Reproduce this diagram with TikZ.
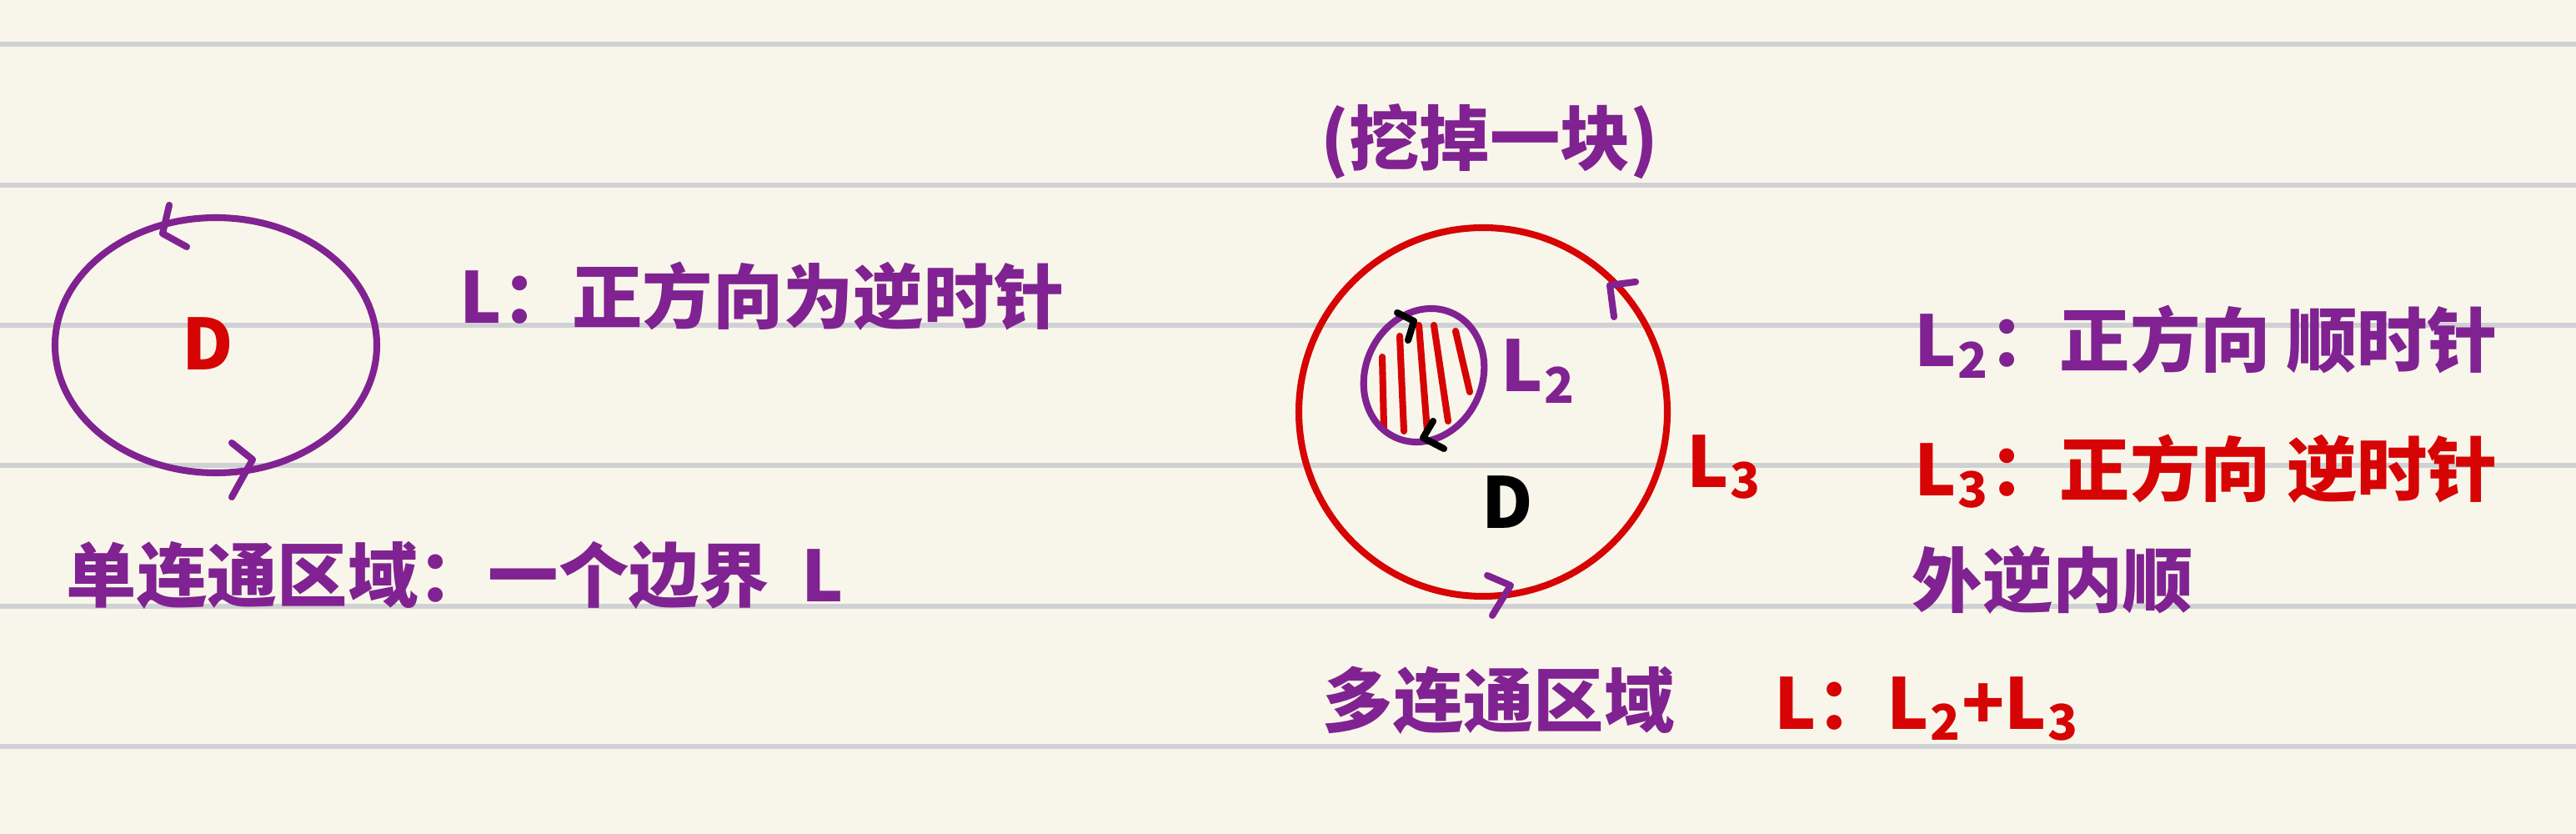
\documentclass[tikz,border=0pt]{standalone}
\usepackage{fontspec}
\setmainfont{Noto Sans CJK SC}
\definecolor{inkPurple}{RGB}{128,34,145}
\definecolor{inkRed}  {RGB}{214,4,4}
\definecolor{paperBg} {RGB}{248,246,234}
\definecolor{ruleGray}{RGB}{208,209,212}
\tikzset{
  ink/.style={line width=2.3pt,line cap=round,line join=round},
  note/.style={font=\fontsize{24}{28}\selectfont\bfseries,anchor=west,inner sep=0pt},
}
\newcommand{\Lsub}[1]{L\kern.02em\textsubscript{#1}}

\begin{document}
\begin{tikzpicture}
        % Papel pautado
        \fill[paperBg] (0,0) rectangle (30.9,10);
        \useasboundingbox (0,0) rectangle (30.9,10);
        \foreach \y in {9.47,7.78,6.10,4.42,2.73,1.05}
          \draw[ruleGray,line width=0.06cm] (0,\y)--(30.9,\y);
        % Regiao simplesmente conexa
        \draw[inkPurple,ink] (2.59,5.86) ellipse [x radius=1.93,y radius=1.53];
        \draw[inkPurple,ink] (2.03,7.54)--(1.95,7.20)--(2.24,7.04);
        \draw[inkPurple,ink] (2.78,4.69)--(3.03,4.49)--(2.78,4.04);
        \node[note,anchor=center,inkRed] (dSimple) at (2.49,5.88) {D};
        \node[note,inkPurple] (orientL) at (5.51,6.45) {L：正方向为逆时针};
        \node[note,inkPurple] (simpleReg) at (0.79,3.10) {单连通区域：一个边界\ \ L};
        % Regiao multiplamente conexa
        \node[note,inkPurple] (holeNote) at (15.84,8.30) {(挖掉一块)};
        \draw[inkRed,ink] (17.79,5.06) circle [radius=2.21];
        \foreach \xa/\ya/\xb/\yb in {16.58/5.72/16.60/4.87, 16.79/5.97/16.84/4.83,
                                     17.02/6.10/17.12/4.83, 17.20/6.10/17.37/4.95,
                                     17.46/6.03/17.63/5.30}
          \draw[inkRed,ink] (\xa,\ya)--(\xb,\yb);
        \draw[inkPurple,ink,shift={(17.08,5.50)},rotate=-25]
          (0,0) ellipse [x radius=0.70,y radius=0.82];
        \draw[black,ink] (16.76,6.25)--(16.96,6.15)--(16.89,5.92);
        \draw[black,ink] (17.19,4.95)--(17.07,4.75)--(17.32,4.62);
        \draw[inkPurple,ink] (19.62,6.62)--(19.31,6.58)--(19.36,6.20);
        \draw[inkPurple,ink] (17.84,3.10)--(18.12,2.98)--(17.90,2.62);
        \node[note,anchor=center,inkPurple] (lTwo) at (18.45,5.55) {\Lsub{2}};
        \node[note,anchor=center,inkRed] (lThree) at (20.68,4.40) {\Lsub{3}};
        \node[note,anchor=center,black] (dMulti) at (18.08,3.98) {D};
        % Orientacoes
        \node[note,inkPurple] (orientTwo) at (22.96,5.90) {\Lsub{2}：正方向\ 顺时针};
        \node[note,inkRed] (orientThree) at (22.96,4.35) {\Lsub{3}：正方向\ 逆时针};
        \node[note,inkPurple] (rule) at (22.93,3.05) {外逆内顺};
        \node[note,inkPurple] (multiReg) at (15.86,1.60) {多连通区域};
        \node[note,inkRed] (sumL) at (21.28,1.50) {L：\Lsub{2}+\Lsub{3}};
      \end{tikzpicture}
\end{document}
